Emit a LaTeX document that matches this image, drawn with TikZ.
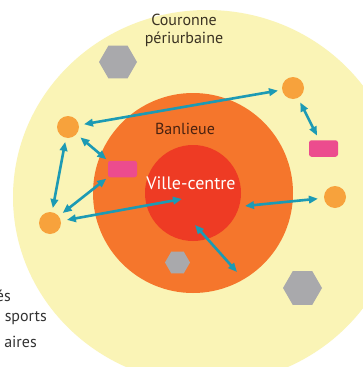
\documentclass[tikz,border=0pt]{standalone}
\usepackage{fontspec}
\setmainfont{PT Sans}
\usetikzlibrary{arrows.meta,shapes.geometric}
\definecolor{yel}{HTML}{FAF4B6}
\definecolor{ban}{HTML}{F5762C}
\definecolor{vc}{HTML}{EE3B24}
\definecolor{dotc}{HTML}{F7A23C}
\definecolor{pinkc}{HTML}{EC4C8E}
\definecolor{hexc}{HTML}{A9A9AC}
\definecolor{arrc}{HTML}{1C9AB4}
\definecolor{txtc}{HTML}{3A3222}
\definecolor{bantxt}{HTML}{4A2210}
\begin{document}
\begin{tikzpicture}[x=1pt,y=-1pt,
  dot/.style={circle,fill=dotc,inner sep=0pt,minimum size=22pt},
  pinkbox/.style={rectangle,rounded corners=2.5pt,fill=pinkc,inner sep=0pt,minimum width=29pt,minimum height=16.5pt},
  hexa/.style={regular polygon,regular polygon sides=6,fill=hexc,inner sep=0pt},
  arr/.style={draw=arrc,line width=2.6pt,{Triangle[length=9pt,width=7.5pt]}-{Triangle[length=9pt,width=7.5pt]}},
  lbl/.style={inner sep=0pt,font=\fontsize{16}{18}\selectfont},
  leg/.style={inner sep=0pt,anchor=base east,text=black!80,font=\fontsize{16}{18}\selectfont}]
\useasboundingbox (0,0) rectangle (363,367);
\clip (0,0) rectangle (363,367);
\fill[white] (0,0) rectangle (363,367);
\fill[yel] (207,197) ellipse [x radius=194, y radius=187];
\fill[ban] (193,193) circle[radius=100];
\fill[vc] (193,193) circle[radius=48];
% hexagons
\node[hexa,minimum size=38pt] (h1) at (118,62) {};
\node[hexa,minimum size=25pt] (h2) at (177.5,262.5) {};
\node[hexa,minimum size=39pt] (h3) at (302.5,288) {};
% dots and boxes
\node[dot] (tr) at (293,88) {};
\node[dot] (lu) at (68,127) {};
\node[dot] (ll) at (50,223) {};
\node[dot] (rc) at (335,197) {};
\node[pinkbox] (lp) at (122.5,169) {};
\node[pinkbox] (rp) at (323.5,148.5) {};
% texts
\node[lbl,text=txtc,align=center,anchor=base] (cour) at (184,43) {Couronne\\périurbaine};
\node[lbl,text=bantxt,anchor=base] (banl) at (185,134) {Banlieue};
\node[lbl,text=white,anchor=base,font=\fontsize{18}{20}\selectfont] (ville) at (191,189) {Ville-centre};
\node[leg] (l1) at (11,301) {és};
\node[leg] (l2) at (47,321) {sports};
\node[leg] (l3) at (37,347) {aires};
% free ends
\coordinate (c1) at (182,199);
\coordinate (c2) at (245,206);
\coordinate (c3) at (195,225);
\coordinate (c4) at (237,272);
% arrows
\draw[arr,shorten <=4pt,shorten >=5pt] (tr) -- (lu);
\draw[arr,shorten <=5pt,shorten >=5pt] (tr) -- (rp);
\draw[arr,shorten <=5pt,shorten >=2pt] (lu) -- (lp.north west);
\draw[arr,shorten <=4pt,shorten >=4pt] (lu) -- (ll);
\draw[arr,shorten <=2pt,shorten >=5pt] (lp.south west) -- (ll);
\draw[arr,shorten >=6pt] (c1) -- (ll);
\draw[arr,shorten <=6pt] (rc) -- (c2);
\draw[arr] (c3) -- (c4);
\end{tikzpicture}
\end{document}
